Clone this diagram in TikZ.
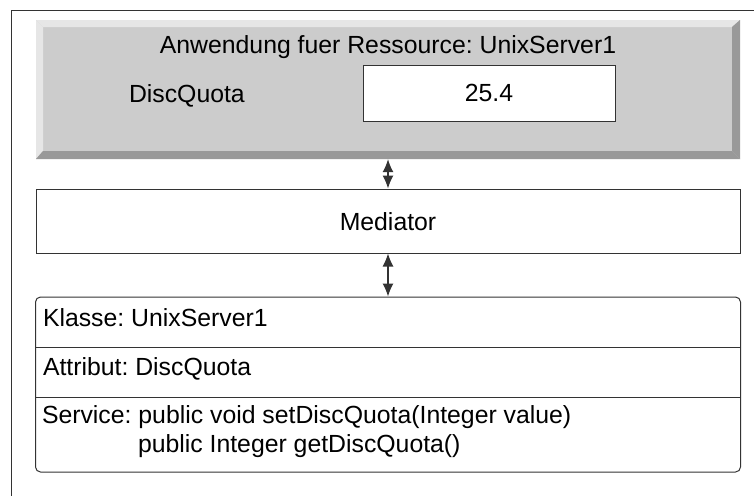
\documentclass[tikz,border=0pt]{standalone}
\usepackage{fontspec}
\setmainfont{Liberation Sans}
\usetikzlibrary{arrows.meta}
\frenchspacing
\definecolor{bevellight}{HTML}{E6E6E6}
\definecolor{bevelface}{HTML}{CCCCCC}
\definecolor{beveldark}{HTML}{999999}
\definecolor{edge}{HTML}{333333}
\begin{document}
\begin{tikzpicture}[x=1pt,y=1pt,
  every node/.style={font=\fontsize{24.8}{30}\selectfont},
  txt/.style={inner sep=0pt, outer sep=0pt},
  plainbox/.style={draw=edge, line width=1pt, fill=white, inner sep=0pt},
  link/.style={draw=edge, line width=1.2pt,
    {Latex[length=13pt,width=11pt]}-{Latex[length=13pt,width=11pt]}}]
\useasboundingbox (0,0) rectangle (754,-496);
\fill[white] (0,0) rectangle (754,-496);

% outer frame: only the top and left edges are visible
\draw[edge, line width=1pt] (754,-10) -- (11,-10) -- (11,-496);

% raised application panel
\fill[bevelface] (36,-20) rectangle (740,-159);
\fill[bevellight] (36,-20) -- (740,-20) -- (732,-27) -- (43,-27) -- cycle;
\fill[bevellight] (36,-20) -- (43,-27) -- (43,-151) -- (36,-159) -- cycle;
\fill[beveldark] (36,-159) -- (740,-159) -- (732,-151) -- (43,-151) -- cycle;
\fill[beveldark] (740,-20) -- (740,-159) -- (732,-151) -- (732,-27) -- cycle;
\node[minimum width=704pt, minimum height=139pt, inner sep=0pt] (app) at (388,-89.5) {};

\node[txt, anchor=base] (title) at (388,-53) {Anwendung fuer Ressource: UnixServer1};
\node[txt, anchor=base west] (quotalabel) at (129,-102) {DiscQuota};
\node[draw=edge, line width=1pt, fill=white, minimum width=252pt, minimum height=56pt,
      inner sep=0pt] (value) at (489,-93) {};
\node[txt, anchor=base] at (value.center |- 0,-101) {25.4};

% mediator
\node[plainbox, minimum width=704pt, minimum height=64pt] (mediator) at (388,-221) {};
\node[txt, anchor=base] at (388,-230) {Mediator};

% class box
\node[plainbox, rounded corners=5pt, minimum width=705pt, minimum height=175pt]
  (class) at (388,-384.5) {};
\draw[edge, line width=1pt] (class.west |- 0,-347) -- (class.east |- 0,-347);
\draw[edge, line width=1pt] (class.west |- 0,-397) -- (class.east |- 0,-397);
\node[txt, anchor=base west] (klasse) at (43,-326) {Klasse: UnixServer1};
\node[txt, anchor=base west] (attr) at (43,-375) {Attribut: DiscQuota};
\node[txt, anchor=base west] (service) at (42,-423) {Service: public void setDiscQuota(Integer value)};
\node[txt, anchor=base west] (getter) at (138,-452) {public Integer getDiscQuota()};

% connectors
\draw[link] (app.south) -- (mediator.north);
\draw[link] (mediator.south) -- (class.north);
\end{tikzpicture}
\end{document}
